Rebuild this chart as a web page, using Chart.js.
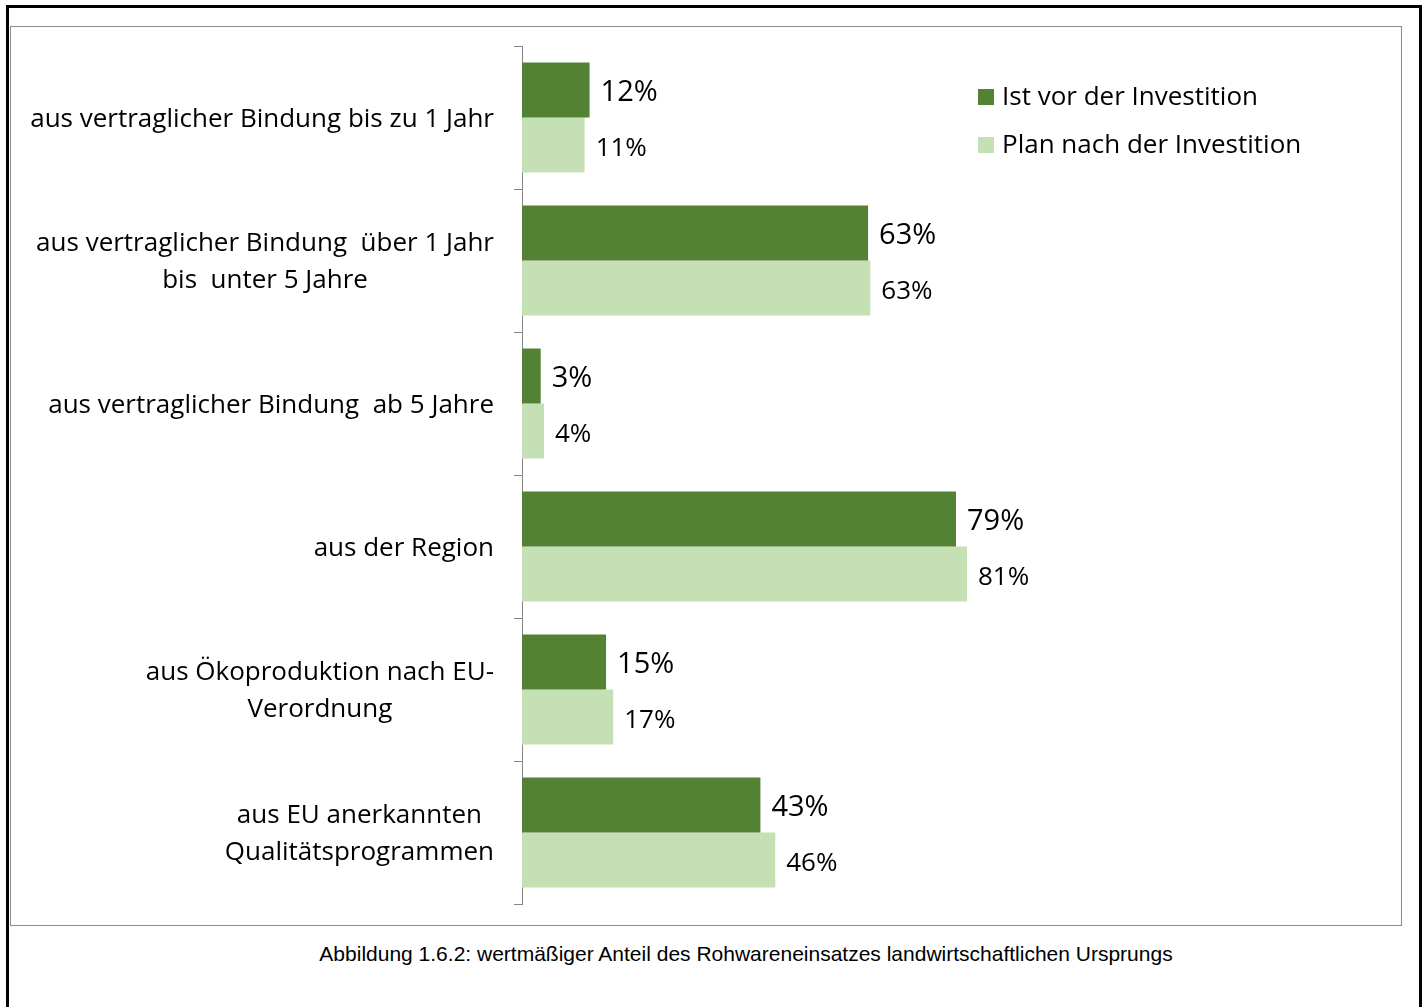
<!DOCTYPE html>
<html>
<head>
<meta charset="utf-8">
<script src="https://cdn.jsdelivr.net/npm/chart.js@4.4.1/dist/chart.umd.min.js"></script>
<style>
  body { margin: 0; background: #fff; }
  #frame {
    position: absolute; left: 6px; top: 5px; width: 1410px; height: 1010px;
    border: 3px solid #000; border-bottom: none;
  }
  #plotbox {
    position: absolute; left: 10px; top: 26px; width: 1390px; height: 898px;
    border: 1px solid #8c8c8c;
  }
  #caption {
    position: absolute; left: 246px; top: 942px; width: 1000px; text-align: center;
    font-family: 'Liberation Sans', Arial, sans-serif; font-size: 21px; color: #000;
  }
</style>
</head>
<body>
<div id="frame"></div>
<div id="plotbox"><canvas id="chart" width="1390" height="898"></canvas></div>
<div id="caption">Abbildung 1.6.2: wertmäßiger Anteil des Rohwareneinsatzes landwirtschaftlichen Ursprungs</div>

<script>
// categories (top to bottom)
const categories = [
    'aus vertraglicher Bindung bis zu 1 Jahr',
    ['aus vertraglicher Bindung  über 1 Jahr', 'bis  unter 5 Jahre'],
    'aus vertraglicher Bindung  ab 5 Jahre',
    'aus der Region',
    ['aus Ökoproduktion nach EU-', 'Verordnung'],
    ['aus EU anerkannten', 'Qualitätsprogrammen']
];

// shares in percent
const istVor   = [12.3, 63.0, 3.4, 79.0, 15.3, 43.4];
const planNach = [11.4, 63.4, 4.0, 81.0, 16.6, 46.1];

const seriesNames = ['Ist vor der Investition', 'Plan nach der Investition'];
const seriesColors = ['#548235', '#C5E0B4'];

Chart.defaults.font.family = "'Open Sans', sans-serif";
Chart.defaults.color = '#000';

// value labels right of each bar
const barLabels = {
    id: 'barLabels',
    afterDatasetsDraw(chart) {
        const ctx = chart.ctx;
        ctx.save();
        ctx.fillStyle = '#000';
        ctx.textAlign = 'left';
        ctx.textBaseline = 'middle';
        chart.data.datasets.forEach((ds, di) => {
            ctx.font = (di === 0 ? 29 : 26) + "px 'Open Sans', sans-serif";
            chart.getDatasetMeta(di).data.forEach((bar, i) => {
                ctx.fillText(Math.round(ds.data[i]) + '%', bar.x + 11, bar.y + (di === 0 ? 3 : 4));
            });
        });
        ctx.restore();
    }
};

// category labels: block right aligned, lines centred (like the office chart)
const catLabels = {
    id: 'catLabels',
    afterDraw(chart) {
        const ctx = chart.ctx;
        const y = chart.scales.y;
        const right = chart.chartArea.left - 28;
        ctx.save();
        ctx.font = "26px 'Open Sans', sans-serif";
        ctx.fillStyle = '#000';
        ctx.textAlign = 'center';
        ctx.textBaseline = 'middle';
        categories.forEach((lab, i) => {
            const lines = Array.isArray(lab) ? lab : [lab];
            const w = Math.max(...lines.map(l => ctx.measureText(l).width));
            const cx = right - w / 2;
            const cy = y.getPixelForValue(i) + 2;
            lines.forEach((l, j) => {
                ctx.fillText(l, cx, cy + (j - (lines.length - 1) / 2) * 37);
            });
        });
        ctx.restore();
    }
};

// legend inside the plot area, to the right of the bars
const sideLegend = {
    id: 'sideLegend',
    afterDraw(chart) {
        const ctx = chart.ctx;
        const a = chart.chartArea;
        ctx.save();
        ctx.font = "26px 'Open Sans', sans-serif";
        ctx.textAlign = 'left';
        ctx.textBaseline = 'middle';
        chart.data.datasets.forEach((ds, i) => {
            const cy = a.top + 51 + i * 48;
            ctx.fillStyle = ds.backgroundColor;
            ctx.fillRect(a.right + 22, cy - 8, 16, 16);
            ctx.fillStyle = '#000';
            ctx.fillText(ds.label, a.right + 46, cy + 1);
        });
        ctx.restore();
    }
};

new Chart(document.getElementById('chart'), {
    type: 'bar',
    data: {
        labels: categories,
        datasets: [
            { label: seriesNames[0], data: istVor, backgroundColor: seriesColors[0] },
            { label: seriesNames[1], data: planNach, backgroundColor: seriesColors[1] }
        ]
    },
    options: {
        indexAxis: 'y',
        responsive: false,
        animation: false,
        events: [],
        devicePixelRatio: 1,
        categoryPercentage: 0.77,
        barPercentage: 1.0,
        clip: false,
        layout: { padding: { top: 19, bottom: 21, left: 0, right: 445 } },
        scales: {
            x: { display: false, min: 0, max: 79 },
            y: {
                grid: { drawOnChartArea: false, drawTicks: true, tickLength: 8, color: '#868686', offset: true },
                border: { display: true, color: '#868686' },
                ticks: { display: false },
                afterFit: s => { s.width = 511; }
            }
        },
        plugins: {
            legend: { display: false },
            tooltip: { enabled: false }
        }
    },
    plugins: [barLabels, catLabels, sideLegend]
});
</script>
</body>
</html>
